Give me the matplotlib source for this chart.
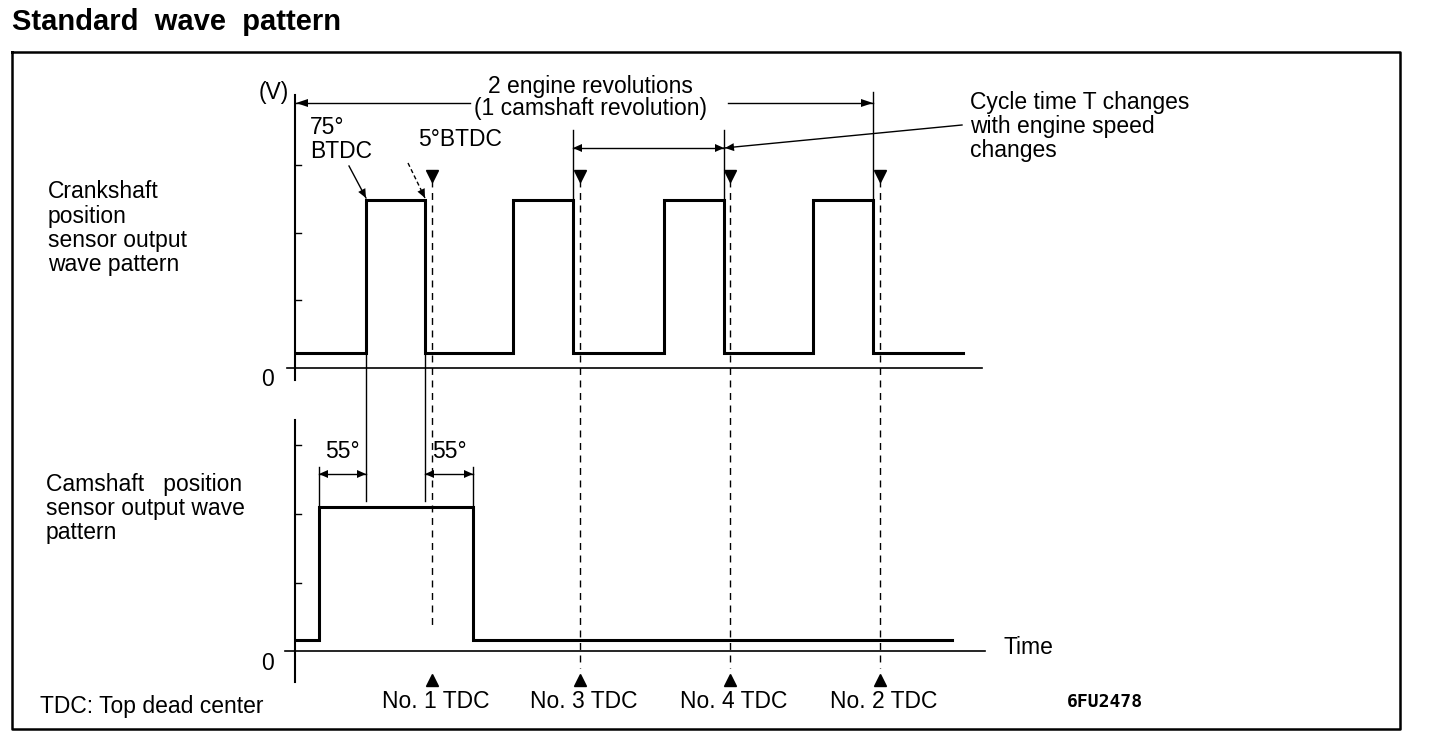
import matplotlib.pyplot as plt
from matplotlib.patches import Polygon

plt.rcParams['font.family'] = ['Liberation Sans', 'DejaVu Sans']

# --- data (drawing units = pixels of the 1440x744 sheet) ---
crank_start, crank_end = 297, 963
crank_edges = [366, 425, 513, 573, 664, 724, 813, 873]
crank_low, crank_high = 353, 200

cam_start, cam_end = 297, 952
cam_edges = [319, 473]
cam_low, cam_high = 640, 507

tdc_x = [432, 580, 730, 880]
tdc_labels = ["No. 1 TDC", "No. 3 TDC", "No. 4 TDC", "No. 2 TDC"]

upper_ticks = [165, 233, 300]
lower_ticks = [445, 514, 583]
upper_zero, lower_zero = 368, 651
axis_x = 295

crank_label = ["Crankshaft", "position", "sensor output", "wave pattern"]
cam_label = ["Camshaft   position", "sensor output wave", "pattern"]
cycle_label = ["Cycle time T changes", "with engine speed", "changes"]


def square_wave(start, end, edges, low, high):
    xs, ys = [start], [low]
    level = low
    for e in edges:
        xs += [e, e]
        ys += [level, high if level == low else low]
        level = ys[-1]
    xs.append(end)
    ys.append(level)
    return xs, ys


def arrowhead(ax, x, y, dx, dy, size=9, width=4):
    # filled triangle pointing along (dx, dy)
    n = (dx ** 2 + dy ** 2) ** 0.5
    ux, uy = dx / n, dy / n
    px, py = -uy, ux
    bx, by = x - ux * size, y - uy * size
    ax.add_patch(Polygon([(x, y), (bx + px * width, by + py * width),
                          (bx - px * width, by - py * width)],
                         closed=True, color='black', lw=0))


fig = plt.figure(figsize=(14.4, 7.44), dpi=100)
ax = fig.add_axes([0, 0, 1, 1])
ax.set_xlim(0, 1440)
ax.set_ylim(744, 0)
ax.axis('off')

fs = 16.5
thin = 1.0

# title and frame
ax.text(12, 22, "Standard  wave  pattern", fontsize=21, fontweight='bold',
        va='center', ha='left')
ax.plot([12, 1400, 1400, 12, 12], [52, 52, 729, 729, 52], color='black', lw=1.8)

# axes of both graphs
ax.plot([axis_x, axis_x], [95, 380], color='black', lw=1.5)
ax.plot([287, 982], [upper_zero, upper_zero], color='black', lw=1.2)
ax.plot([axis_x, axis_x], [420, 682], color='black', lw=1.5)
ax.plot([285, 985], [lower_zero, lower_zero], color='black', lw=1.2)
for t in upper_ticks + lower_ticks:
    ax.plot([axis_x, axis_x + 6], [t, t], color='black', lw=1.0)
ax.text(268, upper_zero + 12, "0", fontsize=fs, ha='center', va='center')
ax.text(268, lower_zero + 12, "0", fontsize=fs, ha='center', va='center')
ax.text(274, 92, "(V)", fontsize=fs, ha='center', va='center')
ax.text(1003, 648, "Time", fontsize=fs, ha='left', va='center')

# waveforms
x, y = square_wave(crank_start, crank_end, crank_edges, crank_low, crank_high)
ax.plot(x, y, color='black', lw=2.2, solid_joinstyle='miter')
x, y = square_wave(cam_start, cam_end, cam_edges, cam_low, cam_high)
ax.plot(x, y, color='black', lw=2.2, solid_joinstyle='miter')

# TDC dashed lines and triangles
for i, t in enumerate(tdc_x):
    bottom = 628 if i == 0 else 668
    ax.plot([t, t], [180, bottom], color='black', lw=1.0, ls=(0, (5, 4)))
    ax.plot(t, 176, marker='v', color='black', ms=8)
    ax.plot(t, 680, marker='^', color='black', ms=8)
    ax.text(t + 4, 702, tdc_labels[i], fontsize=fs, ha='center', va='center')

# extension lines from crank edges
ax.plot([crank_edges[0]] * 2, [crank_low, 501], color='black', lw=thin)
ax.plot([crank_edges[1]] * 2, [crank_low, 501], color='black', lw=thin)
ax.plot([crank_edges[3]] * 2, [130, crank_high], color='black', lw=thin)
ax.plot([crank_edges[5]] * 2, [130, crank_high], color='black', lw=thin)
ax.plot([crank_edges[7]] * 2, [92, crank_high], color='black', lw=thin)
ax.plot([cam_edges[0]] * 2, [467, cam_high], color='black', lw=thin)
ax.plot([cam_edges[1]] * 2, [467, cam_high], color='black', lw=thin)

# 55 degree dimensions
for a, b in [(cam_edges[0], crank_edges[0]), (crank_edges[1], cam_edges[1])]:
    ax.plot([a, b], [474, 474], color='black', lw=thin)
    arrowhead(ax, a, 474, -1, 0)
    arrowhead(ax, b, 474, 1, 0)
    ax.text((a + b) / 2, 452, "55°", fontsize=fs, ha='center', va='center')

# 2 engine revolutions
ax.plot([axis_x, 470], [103, 103], color='black', lw=thin)
ax.plot([728, crank_edges[7]], [103, 103], color='black', lw=thin)
arrowhead(ax, axis_x + 1, 103, -1, 0, size=12)
arrowhead(ax, crank_edges[7], 103, 1, 0, size=12)
ax.text(590, 86, "2 engine revolutions", fontsize=fs, ha='center', va='center')
ax.text(590, 109, "(1 camshaft revolution)", fontsize=fs, ha='center', va='center')

# cycle time T
ax.plot([crank_edges[3], crank_edges[5]], [148, 148], color='black', lw=thin)
arrowhead(ax, crank_edges[3], 148, -1, 0)
arrowhead(ax, crank_edges[5], 148, 1, 0)
ax.plot([crank_edges[5], 962], [148, 125], color='black', lw=thin)
arrowhead(ax, crank_edges[5] + 1, 148, -238, 23)
for i, s in enumerate(cycle_label):
    ax.text(970, 102 + i * 24, s, fontsize=fs, ha='left', va='center')

# BTDC labels and leaders
ax.text(310, 128, "75°", fontsize=fs, ha='left', va='center')
ax.text(310, 152, "BTDC", fontsize=fs, ha='left', va='center')
ax.text(418, 140, "5°BTDC", fontsize=fs, ha='left', va='center')
ax.plot([349, crank_edges[0]], [166, 198], color='black', lw=thin)
arrowhead(ax, crank_edges[0], 198, 366 - 349, 198 - 166)
ax.plot([408, crank_edges[1]], [163, 198], color='black', lw=thin, ls=(0, (3, 2)))
arrowhead(ax, crank_edges[1], 198, 425 - 408, 198 - 163)

# side labels
for i, s in enumerate(crank_label):
    ax.text(48, 192 + i * 24, s, fontsize=fs, ha='left', va='center')
for i, s in enumerate(cam_label):
    ax.text(46, 484 + i * 24, s, fontsize=fs, ha='left', va='center')
ax.text(40, 706, "TDC: Top dead center", fontsize=fs, ha='left', va='center')
ax.text(1067, 702, "6FU2478", fontsize=13, ha='left', va='center',
        family='DejaVu Sans Mono', fontweight='bold')

fig.savefig("out.png", dpi=100)
